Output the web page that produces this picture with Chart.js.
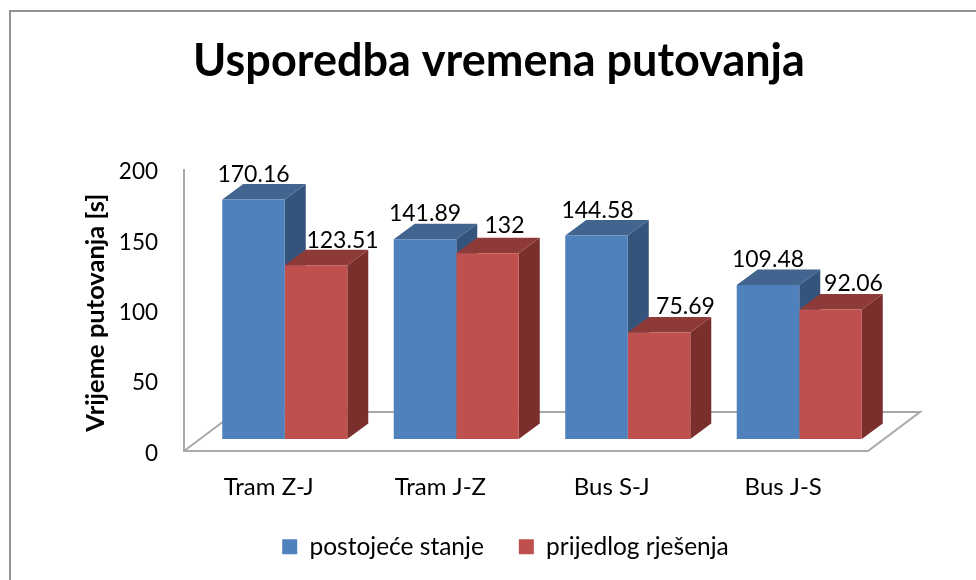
<!DOCTYPE html>
<html>
<head>
<meta charset="utf-8">
<title>Usporedba vremena putovanja</title>
<script src="https://cdn.jsdelivr.net/npm/chart.js@4"></script>
<style>
    body { margin: 0; background: #fff; }
    #wrap { position: relative; width: 976px; height: 580px; }
    /* the source picture is a crop: only the top and left of the frame show */
    #frame { position: absolute; left: 9px; top: 10px; right: 0; bottom: 0; border-top: 2px solid #929292; border-left: 2px solid #929292; }
    canvas { position: absolute; left: 0; top: 0; }
</style>
</head>
<body>
<div id="wrap">
    <div id="frame"></div>
    <canvas id="chart" width="976" height="580"></canvas>
</div>
<script>
// Data
const categories = ['Tram Z-J', 'Tram J-Z', 'Bus S-J', 'Bus J-S'];
const postojeceStanje = [170.16, 141.89, 144.58, 109.48];
const prijedlogRjesenja = [123.51, 132, 75.69, 92.06];
const yTicks = [0, 50, 100, 150, 200];

// Fake 3D look
const DEPTH_X = 21;
const DEPTH_Y = -15.5;
const FONT = 'Lato';
const shades = [
    { front: '#4f81bd', top: '#41658f', side: '#34547c' },
    { front: '#c0504d', top: '#8e3a38', side: '#7a2f2d' }
];
// the value labels were moved by hand in the original
const labelShift = [
    [{ x: 0, y: 18 }, { x: 0, y: 18 }, { x: 1, y: 18 }, { x: 0, y: 18 }],
    [{ x: 26.5, y: 17 }, { x: 17, y: 20.5 }, { x: 26.5, y: 18.5 }, { x: 23, y: 18.5 }]
];

function poly(ctx, pts, color) {
    ctx.fillStyle = color;
    ctx.beginPath();
    pts.forEach((p, i) => i ? ctx.lineTo(p[0], p[1]) : ctx.moveTo(p[0], p[1]));
    ctx.closePath();
    ctx.fill();
}

const bars3d = {
    id: 'bars3d',
    afterLayout(chart) {
        // title sits a little left of the legend in the original
        chart.titleBlock.left -= 6.5;
        chart.titleBlock.right -= 6.5;
    },
    beforeDatasetsDraw(chart) {
        const ctx = chart.ctx;
        const sx = chart.scales.x;
        const floorY = chart.scales.y.getPixelForValue(0) - 2.5;

        // axis wall and floor
        ctx.save();
        ctx.strokeStyle = '#a9a9a9';
        ctx.lineWidth = 2;
        ctx.beginPath();
        ctx.moveTo(sx.left - 15, chart.scales.y.top - 3);
        ctx.lineTo(sx.left - 15, floorY);
        ctx.lineTo(sx.right - 17, floorY);
        ctx.lineTo(sx.right + 35, floorY - 39);
        ctx.lineTo(sx.left + 37, floorY - 39);
        ctx.lineTo(sx.left - 15, floorY);
        ctx.stroke();

        // bar tops and sides, the fronts come from the library
        chart.data.datasets.forEach((ds, d) => {
            chart.getDatasetMeta(d).data.forEach(bar => {
                const l = bar.x - bar.width / 2;
                const r = bar.x + bar.width / 2;
                poly(ctx, [[r, bar.base], [r + DEPTH_X, bar.base + DEPTH_Y], [r + DEPTH_X, bar.y + DEPTH_Y], [r, bar.y]], shades[d].side);
                poly(ctx, [[l, bar.y], [l + DEPTH_X, bar.y + DEPTH_Y], [r + DEPTH_X, bar.y + DEPTH_Y], [r, bar.y]], shades[d].top);
            });
        });
        ctx.restore();
    },
    afterDatasetsDraw(chart) {
        const ctx = chart.ctx;
        ctx.save();
        ctx.font = '23px ' + FONT;
        ctx.fillStyle = '#000';
        ctx.textAlign = 'center';
        ctx.textBaseline = 'alphabetic';
        chart.data.datasets.forEach((ds, d) => {
            chart.getDatasetMeta(d).data.forEach((bar, i) => {
                const shift = labelShift[d][i];
                ctx.fillText(String(ds.data[i]), bar.x + shift.x, bar.y - shift.y);
            });
        });
        ctx.restore();
    }
};

new Chart(document.getElementById('chart').getContext('2d'), {
    type: 'bar',
    plugins: [bars3d],
    data: {
        labels: categories,
        datasets: [
            {
                label: 'postojeće stanje',
                data: postojeceStanje,
                backgroundColor: shades[0].front,
                yAxisID: 'y2',
                categoryPercentage: 0.729,
                barPercentage: 1
            },
            {
                label: 'prijedlog rješenja',
                data: prijedlogRjesenja,
                backgroundColor: shades[1].front,
                yAxisID: 'y2',
                categoryPercentage: 0.729,
                barPercentage: 1
            }
        ]
    },
    options: {
        responsive: false,
        animation: false,
        layout: { padding: { left: 35, right: 0, top: 0, bottom: 11 } },
        plugins: {
            title: {
                display: true,
                text: 'Usporedba vremena putovanja',
                color: '#000',
                font: { family: FONT, size: 45, weight: 'bold' },
                padding: { top: 34, bottom: 84 }
            },
            legend: {
                position: 'bottom',
                labels: {
                    color: '#000',
                    font: { family: FONT, size: 24.5 },
                    boxWidth: 15,
                    boxHeight: 15,
                    padding: 35
                }
            },
            tooltip: { enabled: false }
        },
        scales: {
            x: {
                grid: { display: false },
                border: { display: false },
                ticks: { color: '#000', font: { family: FONT, size: 24 }, padding: 11, labelOffset: -16, maxRotation: 0 },
                afterFit(scale) { scale.height = 46; }
            },
            // visible value axis
            y: {
                min: 0,
                max: 200,
                position: 'left',
                grid: { display: false },
                border: { display: false },
                afterBuildTicks(scale) { scale.ticks = yTicks.map(v => ({ value: v })); },
                ticks: { color: '#000', font: { family: FONT, size: 22.5 }, padding: 33 },
                title: {
                    display: true,
                    text: 'Vrijeme putovanja [s]',
                    color: '#000',
                    font: { family: FONT, size: 25.5, weight: 'bold' },
                    padding: { top: 45, bottom: 0 }
                },
                afterFit(scale) { scale.width = 164; }
            },
            // hidden axis the bars sit on: same pixels per second, floor raised into the 3D box
            y2: {
                min: -10.3,
                max: 189.7,
                position: 'right',
                grid: { display: false },
                border: { display: false },
                ticks: { display: false },
                afterFit(scale) { scale.width = 91; }
            }
        }
    }
});
</script>
</body>
</html>
